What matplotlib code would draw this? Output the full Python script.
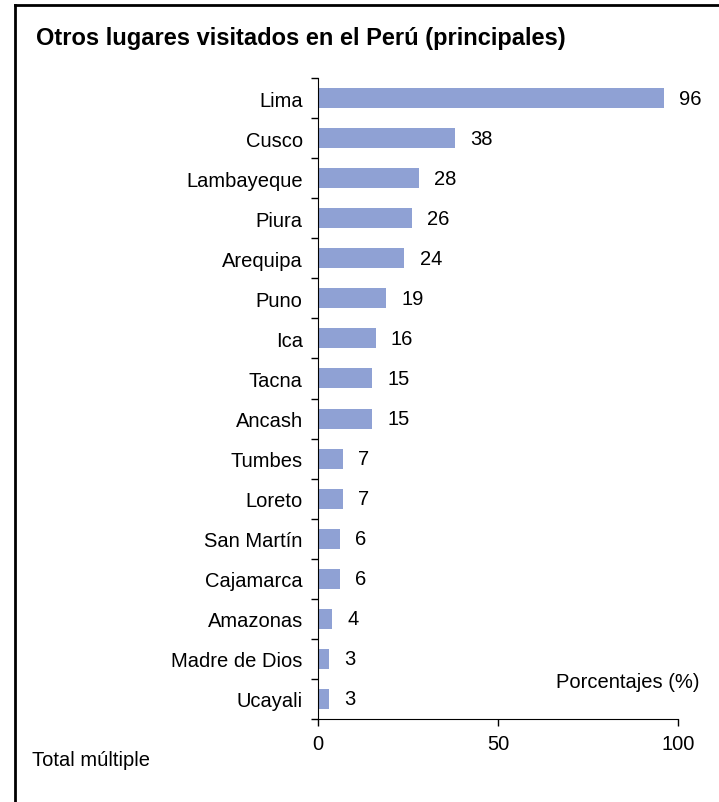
import numpy as np
import matplotlib.pyplot as plt
from matplotlib.lines import Line2D

plt.rcParams['font.family'] = ['Liberation Sans', 'DejaVu Sans']

lugares = ['Lima', 'Cusco', 'Lambayeque', 'Piura', 'Arequipa', 'Puno', 'Ica',
           'Tacna', 'Ancash', 'Tumbes', 'Loreto', 'San Martín', 'Cajamarca',
           'Amazonas', 'Madre de Dios', 'Ucayali']
porcentajes = [96, 38, 28, 26, 24, 19, 16, 15, 15, 7, 7, 6, 6, 4, 3, 3]
xticks = [0, 50, 100]

fs = 14.5

fig = plt.figure(figsize=(7.19, 8.03), dpi=100)
ax = fig.add_axes([318 / 719, 1 - 720 / 803, 360 / 719, 641 / 803])

y = np.arange(len(lugares))
ax.barh(y, porcentajes, height=0.5, color='#8fa1d4')
for yi, v in zip(y, porcentajes):
    ax.text(v + 4.2, yi, str(v), va='center', ha='left', fontsize=fs)

ax.set_ylim(len(lugares) - 0.5, -0.5)
ax.set_xlim(0, 100)
ax.set_yticks(np.arange(len(lugares) + 1) - 0.5)
ax.set_yticklabels([])
ax.set_yticks(y, minor=True)
ax.set_yticklabels(lugares, minor=True, fontsize=fs)
ax.tick_params(axis='y', which='major', direction='out', length=5, width=1)
ax.tick_params(axis='y', which='minor', length=0, pad=11)
ax.set_xticks(xticks)
ax.set_xticklabels([str(t) for t in xticks], fontsize=fs)
ax.tick_params(axis='x', direction='out', length=5, width=1, pad=6)
for s in ['top', 'right']:
    ax.spines[s].set_visible(False)

ax.text(1.06, 0.058, 'Porcentajes (%)', transform=ax.transAxes,
        ha='right', va='center', fontsize=fs)

fig.text(36 / 719, 1 - 38 / 803, 'Otros lugares visitados en el Perú (principales)',
         fontsize=17, fontweight='bold', va='center', ha='left')
fig.text(32 / 719, 1 - 761 / 803, 'Total múltiple', fontsize=fs,
         va='center', ha='left')

# marco
fig.add_artist(Line2D([15 / 719, 15 / 719], [0, 1 - 5.5 / 803],
                      transform=fig.transFigure, color='black', lw=2))
fig.add_artist(Line2D([15 / 719, 1], [1 - 5.5 / 803, 1 - 5.5 / 803],
                      transform=fig.transFigure, color='black', lw=2))

fig.savefig('out.png', dpi=100)
